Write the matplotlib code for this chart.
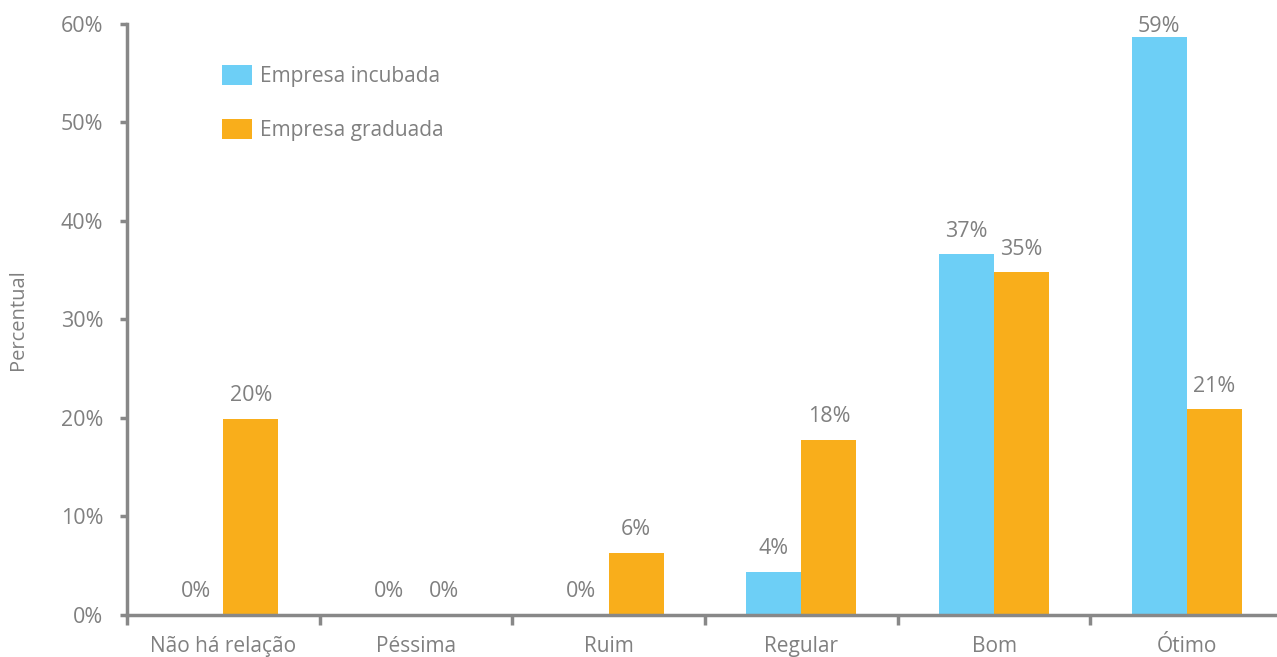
import matplotlib.pyplot as plt
import numpy as np
from matplotlib.ticker import FixedLocator, PercentFormatter

plt.rcParams['font.family'] = ['Open Sans', 'DejaVu Sans']

categorias = ['Não há relação', 'Péssima', 'Ruim', 'Regular', 'Bom', 'Ótimo']
incubada = [0.0, 0.0, 0.0, 4.4, 36.6, 58.7]
graduada = [19.9, 0.0, 6.3, 17.8, 34.8, 20.9]
series = ['Empresa incubada', 'Empresa graduada']

azul = '#6dcff6'
laranja = '#f9ae1b'
cinza = '#808080'
eixo = '#888888'

fig = plt.figure(figsize=(12.77, 6.57), dpi=100)
ax = fig.add_axes([0.0995, 0.064, 0.9052, 0.8995])

x = np.arange(len(categorias))
w = 0.285
b1 = ax.bar(x - w / 2, incubada, w, color=azul, label=series[0])
b2 = ax.bar(x + w / 2, graduada, w, color=laranja, label=series[1])

for bars, vals in ((b1, incubada), (b2, graduada)):
    for rect, v in zip(bars, vals):
        # keep the tallest label inside the plot area
        off = 0 if v > 57 else 9
        ax.annotate(f'{v:.0f}%', (rect.get_x() + rect.get_width() / 2, v),
                    xytext=(0, off), textcoords='offset points',
                    ha='center', va='bottom', fontsize=15.5, color=cinza)

ax.set_xlim(-0.5, len(categorias) - 0.5)
ax.set_ylim(0, 60)
ax.yaxis.set_major_locator(FixedLocator(np.arange(0, 61, 10)))
ax.yaxis.set_major_formatter(PercentFormatter(decimals=0))

# separators between groups as major ticks, names on minor ticks
ax.xaxis.set_major_locator(FixedLocator(np.arange(-0.5, len(categorias), 1.0)))
ax.xaxis.set_major_formatter(plt.NullFormatter())
ax.xaxis.set_minor_locator(FixedLocator(x))
ax.set_xticklabels(categorias, minor=True)
ax.tick_params(axis='x', which='major', length=7, width=2.5, color=eixo, direction='out')
ax.tick_params(axis='x', which='minor', length=0, pad=15, labelsize=15, labelcolor=cinza)
ax.tick_params(axis='y', length=5, width=2.5, color=eixo, pad=12,
               labelsize=15.5, labelcolor=cinza)

for s in ('top', 'right'):
    ax.spines[s].set_visible(False)
for s in ('left', 'bottom'):
    ax.spines[s].set_color(eixo)
    ax.spines[s].set_linewidth(2.5)

ax.set_ylabel('Percentual', fontsize=14.5, color=cinza, labelpad=24)

leg = ax.legend(loc='upper left', bbox_to_anchor=(0.066, 0.962), frameon=False,
                fontsize=15, labelspacing=1.55, handlelength=1.45, handleheight=1.05,
                handletextpad=0.35)
for t in leg.get_texts():
    t.set_color(cinza)

fig.savefig('out.png', dpi=100)
